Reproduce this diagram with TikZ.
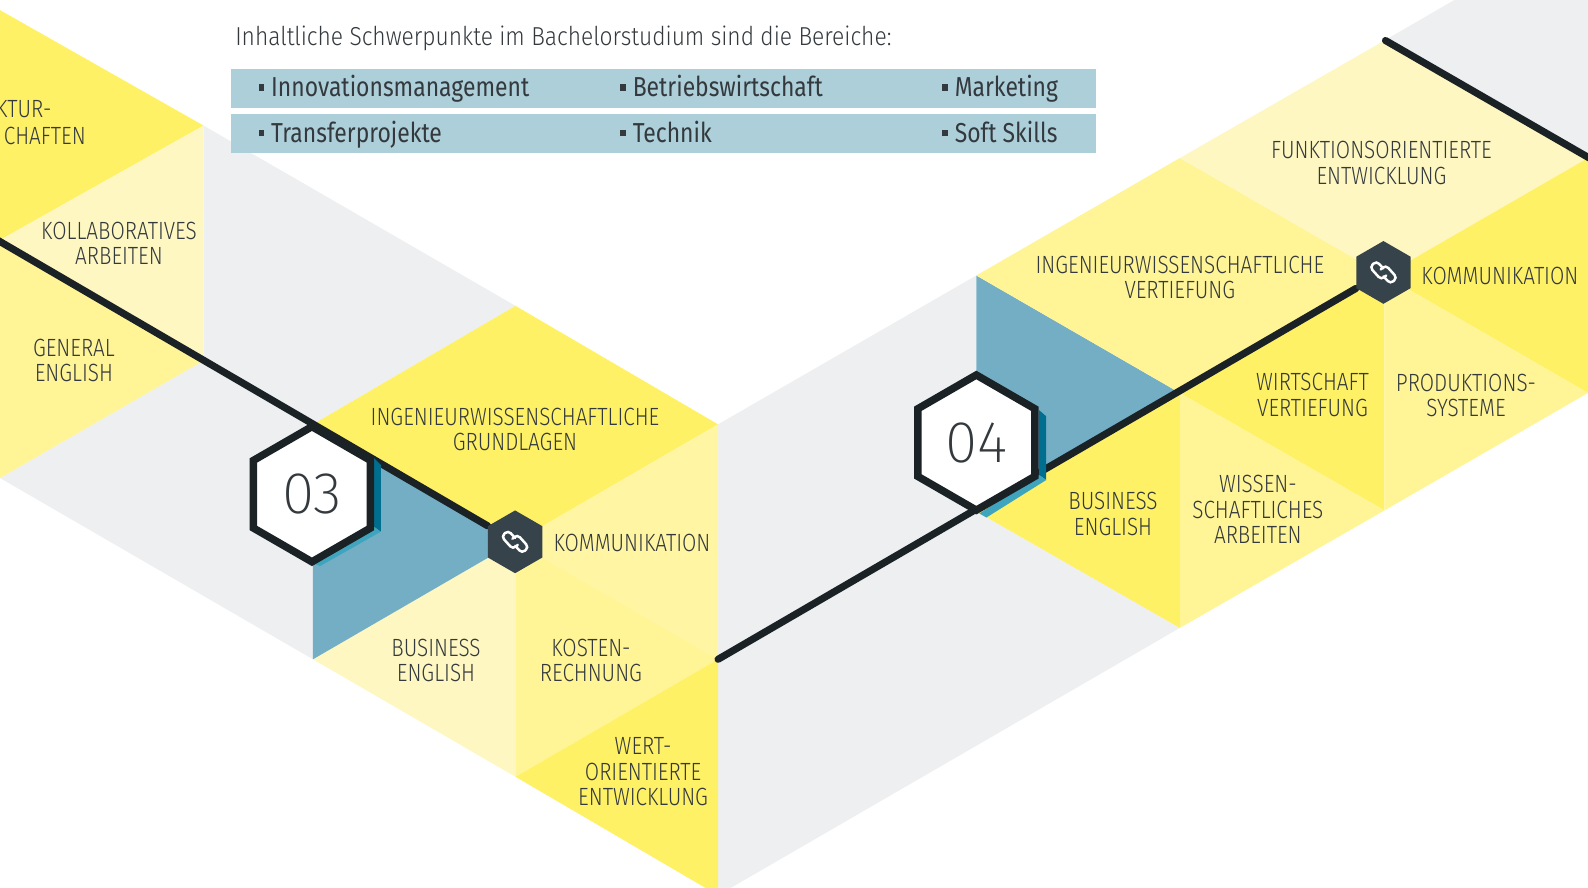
\documentclass[tikz,border=0pt]{standalone}
\usepackage{fontspec}
\usetikzlibrary{shapes.geometric,backgrounds}
\setmainfont[FakeStretch=0.832]{Fira Sans Light}
\newfontfamily\barfont[FakeStretch=0.836]{Fira Sans}
\newfontfamily\titlefont[FakeStretch=0.877]{Fira Sans Light}
\newfontfamily\numfont{Fira Sans ExtraLight}
\definecolor{brightyel}{HTML}{FFF166}
\definecolor{midyel}{HTML}{FFF496}
\definecolor{creamyel}{HTML}{FEF7C2}
\definecolor{bandgrey}{HTML}{EDEFF1}
\definecolor{tileblue}{HTML}{74AEC5}
\definecolor{barblue}{HTML}{ADCFD9}
\definecolor{inkdark}{HTML}{1A2226}
\definecolor{linkdark}{HTML}{36434B}
\definecolor{textdark}{HTML}{33393D}
\definecolor{shadedark}{HTML}{006F8F}
\definecolor{shadelight}{HTML}{3FA5BE}
\newcommand{\sqbullet}{\rule[0.22em]{0.2em}{0.24em}\hspace{0.26em}}
\tikzset{
	lbl/.style={align=center,text=textdark,font=\fontsize{14}{14.2}\selectfont,inner sep=0pt},
	barlbl/.style={anchor=base west,text=textdark,font=\barfont\fontsize{15.4}{16}\selectfont,inner sep=0pt},
	barbox/.style={fill=barblue,draw=none,minimum width=17.08cm,minimum height=0.77cm,inner sep=0pt},
	numhex/.style={regular polygon,regular polygon sides=6,shape border rotate=30,draw=inkdark,fill=white,line width=4.2pt,minimum size=2.67cm,inner sep=0pt,text=textdark,font=\numfont\fontsize{33}{33}\selectfont},
	linkhex/.style={regular polygon,regular polygon sides=6,shape border rotate=30,fill=linkdark,minimum size=1.24cm,inner sep=0pt},
	route/.style={draw=inkdark,line width=4pt,line cap=round},
	chain/.style={white,line width=1.4pt,rounded corners=2.2pt,line cap=round}
}
\begin{document}
\begin{tikzpicture}[x=0.02cm,y=-0.02cm]
		\useasboundingbox (0,0) rectangle (1568,876.8);
		
		\node[linkhex] (linkThree) at (508.6,535) {};
		\node[linkhex] (linkFour) at (1366,269) {};
		\node[numhex] (hexThree) at (308,488) {03};
		\node[numhex] (hexFour) at (964,437) {04};
		
		% free ends of the route
		\coordinate (leftEnd) at (-10,232.7);
		\coordinate (midEnd) at (709,651);
		\coordinate (topEnd) at (1368,40);
		\coordinate (rightEnd) at (1590,168);
		
		\begin{scope}[on background layer]
		% grey bands
		\fill[bandgrey] (201,124) -- (509,302) -- (309,419) -- (309,651) -- (0,472) -- (201,356) -- cycle;
		\fill[bandgrey] (709,419) -- (964,272) -- (964,505) -- (1165,620) -- (709,884) -- cycle;
		\fill[bandgrey] (1367,40) -- (1436,0) -- (1568,0) -- (1568,156) -- cycle;
		% left block
		\fill[brightyel] (0,10) -- (201,124) -- (0,237) -- cycle;
		\fill[creamyel] (201,124) -- (201,356) -- (0,237) -- cycle;
		\fill[midyel] (0,237) -- (201,356) -- (0,472) -- cycle;
		% middle block
		\fill[brightyel] (309,419) -- (509,302) -- (709,419) -- (509,535) -- cycle;
		\fill[midyel!70!creamyel] (709,419) -- (709,651) -- (509,535) -- cycle;
		\fill[midyel] (509,535) -- (709,651) -- (509,767) -- cycle;
		\fill[creamyel] (509,535) -- (509,767) -- (309,651) -- cycle;
		\fill[tileblue] (309,419) -- (509,535) -- (309,651) -- cycle;
		\fill[brightyel] (509,767) -- (709,651) -- (709,884) -- cycle;
		% right block
		\fill[tileblue] (964,272) -- (1165,388) -- (964,505) -- cycle;
		\fill[midyel] (964,272) -- (1165,156) -- (1367,272) -- (1165,388) -- cycle;
		\fill[creamyel] (1165,156) -- (1367,40) -- (1568,156) -- (1367,272) -- cycle;
		\fill[brightyel] (1367,272) -- (1568,156) -- (1568,388) -- cycle;
		\fill[brightyel] (1165,388) -- (1367,272) -- (1367,504) -- cycle;
		\fill[midyel] (1367,272) -- (1568,388) -- (1367,504) -- cycle;
		\fill[midyel] (1165,388) -- (1367,504) -- (1165,620) -- cycle;
		\fill[brightyel] (964,505) -- (1165,388) -- (1165,620) -- cycle;
		
		\draw[route] (leftEnd)--(linkThree);
		\draw[route] (midEnd)--(linkFour);
		\draw[route] (topEnd)--(rightEnd);
		
		% hexagon shades
		\fill[shadedark] (369,452) -- (376,459) -- (376,525) -- (369,520) -- cycle;
		\fill[shadelight] (369,520) -- (376,525) -- (316,559) -- (309,556) -- cycle;
		\fill[shadedark] (1026,405) -- (1033,411) -- (1033,474) -- (1026,469) -- cycle;
		\fill[shadelight] (1026,469) -- (1033,474) -- (974,511) -- (967,507) -- cycle;
		\end{scope}
		
		% link icons
		\foreach \c in {linkThree,linkFour}{
			\draw[chain,shift={(\c)},rotate=-48]
				(-3,-2.5) -- (-13,-2.5) -- (-13,6.5) -- (4,6.5) -- (4,0);
			\draw[chain,shift={(\c)},rotate=-48]
				(3,2.5) -- (13,2.5) -- (13,-6.5) -- (-4,-6.5) -- (-4,0);
		}
		
		% top text
		\node[lbl,anchor=base west,font=\titlefont\fontsize{14.6}{15}\selectfont] (title) at (232,45) {Inhaltliche Schwerpunkte im Bachelorstudium sind die Bereiche:};
		\node[barbox,anchor=north west] (barOne) at (228,68) {};
		\node[barbox,anchor=north west] (barTwo) at (228,112.5) {};
		\node[barlbl] (itemA) at (255,95.5) {\sqbullet Innovationsmanagement};
		\node[barlbl] (itemB) at (612,95.5) {\sqbullet Betriebswirtschaft};
		\node[barlbl] (itemC) at (930,95.5) {\sqbullet Marketing};
		\node[barlbl] (itemD) at (255,140.5) {\sqbullet Transferprojekte};
		\node[barlbl] (itemE) at (612,140.5) {\sqbullet Technik};
		\node[barlbl] (itemF) at (930,140.5) {\sqbullet Soft Skills};
		
		% labels
		\node[lbl,anchor=east] (archA) at (51,108) {KTUR-};
		\node[lbl,anchor=east] (archB) at (85,134) {CHAFTEN};
		\node[lbl] (kolla) at (117.5,240) {KOLLABORATIVES\\ARBEITEN};
		\node[lbl] (general) at (73,356) {GENERAL\\ENGLISH};
		\node[lbl] (grund) at (508.5,424) {INGENIEURWISSENSCHAFTLICHE\\GRUNDLAGEN};
		\node[lbl] (kommA) at (624,536) {KOMMUNIKATION};
		\node[lbl] (busiA) at (430.5,652) {BUSINESS\\ENGLISH};
		\node[lbl] (kosten) at (583.5,652) {KOSTEN-\\RECHNUNG};
		\node[lbl] (wert) at (635,762) {WERT-\\ORIENTIERTE\\ENTWICKLUNG};
		\node[lbl] (funk) at (1364,161) {FUNKTIONSORIENTIERTE\\ENTWICKLUNG};
		\node[lbl] (vert) at (1165,274) {INGENIEURWISSENSCHAFTLICHE\\VERTIEFUNG};
		\node[lbl] (kommB) at (1481,272) {KOMMUNIKATION};
		\node[lbl] (wirt) at (1296,390) {WIRTSCHAFT\\VERTIEFUNG};
		\node[lbl] (prod) at (1447.5,390.5) {PRODUKTIONS-\\SYSTEME};
		\node[lbl] (wissen) at (1242,503) {WISSEN-\\SCHAFTLICHES\\ARBEITEN};
		\node[lbl] (busiB) at (1099,507.5) {BUSINESS\\ENGLISH};
	\end{tikzpicture}
\end{document}
